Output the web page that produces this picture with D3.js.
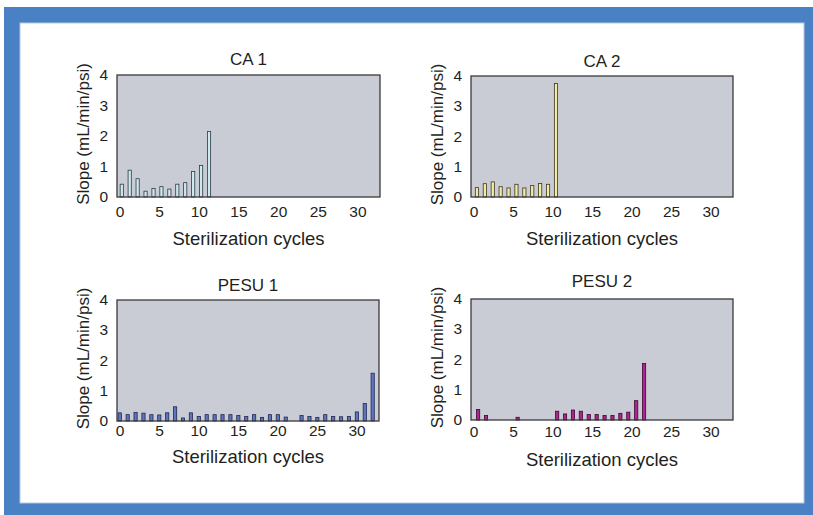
<!DOCTYPE html>
<meta charset="UTF-8">
<html>
<head>
<style>
html, body { margin:0; padding:0; background:#fff; }
svg { display:block; font-family: "Liberation Sans", Arial, Helvetica, sans-serif; }
.lbl { fill:#231f20; }
</style>
</head>
<body>
<svg width="813" height="515"></svg>
<script src="https://d3js.org/d3.v7.min.js"></script>
<script>
// values (slope in mL/min/psi per sterilization cycle)
var ca1Cycles = [0,1,2,3,4,5,6,7,8,9,10,11];
var ca1Slopes = [0.42,0.88,0.60,0.19,0.28,0.34,0.26,0.42,0.47,0.84,1.03,2.15];

var ca2Cycles = [0,1,2,3,4,5,6,7,8,9,10];
var ca2Slopes = [0.31,0.44,0.50,0.34,0.30,0.42,0.30,0.38,0.45,0.42,3.75];

var pesu1Cycles = [0,1,2,3,4,5,6,7,8,9,10,11,12,13,14,15,16,17,18,19,20,21,
                   23,24,25,26,27,28,29,30,31,32];
var pesu1Slopes = [0.27,0.21,0.28,0.26,0.21,0.20,0.27,0.47,0.10,0.27,0.15,0.21,0.21,0.21,0.21,0.18,
                   0.15,0.21,0.12,0.21,0.21,0.13,0.18,0.15,0.12,0.21,0.15,0.14,0.15,0.30,0.58,1.58];

var pesu2Cycles = [0,1,5,10,11,12,13,14,15,16,17,18,19,20,21];
var pesu2Slopes = [0.35,0.15,0.09,0.29,0.20,0.33,0.29,0.18,0.18,0.15,0.15,0.22,0.26,0.64,1.87];

var xTicks = [0,5,10,15,20,25,30];
var yTicks = [0,1,2,3,4];
var xTitle = "Sterilization cycles";
var yTitle = "Slope (mL/min/psi)";

var svg = d3.select("svg");

// blue frame
svg.append("rect").attr("x",4).attr("y",7).attr("width",809).attr("height",508).attr("fill","#4a80c4");
svg.append("rect").attr("x",20).attr("y",23).attr("width",784).attr("height",480)
  .attr("fill","#fff").attr("stroke","#b4c8e4").attr("stroke-width",1);

var panels = [
  {title:"CA 1", cycles:ca1Cycles, slopes:ca1Slopes, fill:"#cfe7ef", stroke:"#2b3b42",
   left:117, top:75, right:380, bottom:197, shift:0.35, titleY:65, tickY:217, xtY:245},
  {title:"CA 2", cycles:ca2Cycles, slopes:ca2Slopes, fill:"#f4eba3", stroke:"#3a3522",
   left:471, top:76, right:733, bottom:197, shift:0.5, titleY:67, tickY:217, xtY:245},
  {title:"PESU 1", cycles:pesu1Cycles, slopes:pesu1Slopes, fill:"#6075bf", stroke:"#1f2850",
   left:117, top:300, right:379, bottom:421, shift:0.1, titleY:291, tickY:436, xtY:463},
  {title:"PESU 2", cycles:pesu2Cycles, slopes:pesu2Slopes, fill:"#ad2590", stroke:"#3a0a30",
   left:471, top:299, right:733, bottom:420, shift:0.65, titleY:287, tickY:437, xtY:466}
];

panels.forEach(function(p) {
  var x = d3.scaleLinear().domain([-0.25, 32.9]).range([p.left, p.right]);
  var y = d3.scaleLinear().domain([0, 4]).range([p.bottom, p.top]);
  var g = svg.append("g");

  g.append("rect")
    .attr("x", p.left).attr("y", p.top)
    .attr("width", p.right - p.left).attr("height", p.bottom - p.top)
    .attr("fill", "#c9ccd4");

  var bw = 3.2;
  g.selectAll("rect.bar")
    .data(p.cycles.map(function(c, i) { return {c:c, v:p.slopes[i]}; }))
    .enter().append("rect")
      .attr("class", "bar")
      .attr("x", function(d) { return x(d.c + p.shift) - bw/2; })
      .attr("y", function(d) { return y(d.v); })
      .attr("width", bw)
      .attr("height", function(d) { return y(0) - y(d.v); })
      .attr("fill", p.fill)
      .attr("stroke", p.stroke)
      .attr("stroke-width", 0.8);

  g.append("rect")
    .attr("x", p.left).attr("y", p.top)
    .attr("width", p.right - p.left).attr("height", p.bottom - p.top)
    .attr("fill", "none").attr("stroke", "#3a3a3a").attr("stroke-width", 1.3);

  // x tick labels
  g.selectAll("text.xt").data(xTicks).enter().append("text")
    .attr("class", "lbl")
    .attr("x", function(d) { return x(d) + 1; })
    .attr("y", p.tickY)
    .attr("text-anchor", "middle")
    .attr("font-size", 15.5)
    .text(function(d) { return d; });

  // y tick labels
  g.selectAll("text.yt").data(yTicks).enter().append("text")
    .attr("class", "lbl")
    .attr("x", p.left - 9)
    .attr("y", function(d) { return y(d) + 5; })
    .attr("text-anchor", "end")
    .attr("font-size", 15.5)
    .text(function(d) { return d; });

  g.append("text").attr("class", "lbl")
    .attr("x", (p.left + p.right) / 2).attr("y", p.titleY)
    .attr("text-anchor", "middle").attr("font-size", 17)
    .text(p.title);

  g.append("text").attr("class", "lbl")
    .attr("x", (p.left + p.right) / 2).attr("y", p.xtY)
    .attr("text-anchor", "middle").attr("font-size", 18.5)
    .text(xTitle);

  g.append("text").attr("class", "lbl")
    .attr("transform", "translate(" + (p.left - 28) + "," + ((p.top + p.bottom) / 2 - 2) + ") rotate(-90)")
    .attr("text-anchor", "middle").attr("font-size", 17)
    .text(yTitle);
});
</script>
</body>
</html>
